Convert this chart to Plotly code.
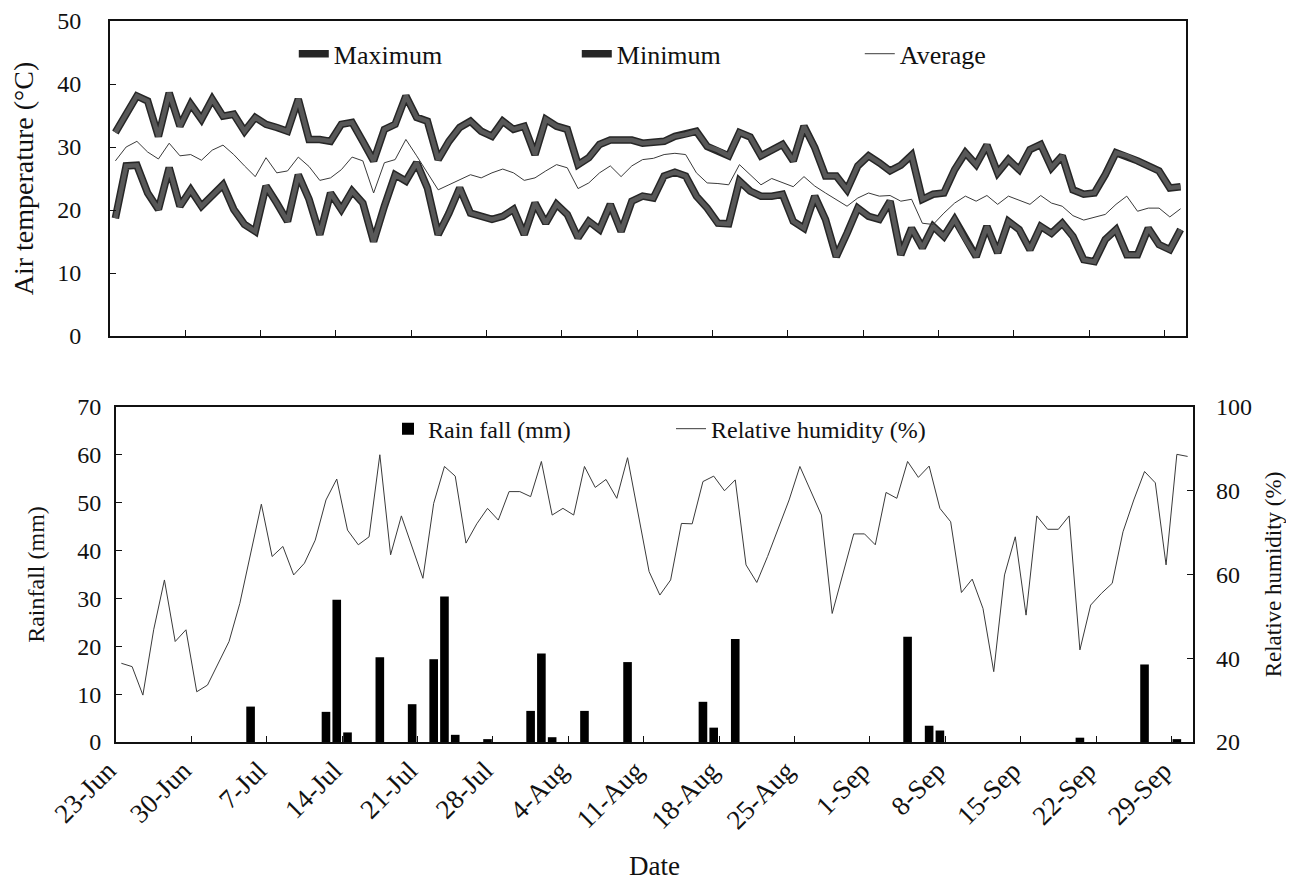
import plotly.graph_objects as go

# ---------------- data (23-Jun .. 30-Sep, one value per day) ----------------
tick_labels = ["23-Jun", "30-Jun", "7-Jul", "14-Jul", "21-Jul", "28-Jul", "4-Aug",
               "11-Aug", "18-Aug", "25-Aug", "1-Sep", "8-Sep", "15-Sep", "22-Sep", "29-Sep"]

t_max = [32.3, 35.2, 38.1, 37.3, 31.7, 38.6, 33.3, 36.8, 34.4, 37.6,
         34.9, 35.2, 32.5, 34.7, 33.6, 33.1, 32.5, 37.6, 31.2, 31.2,
         30.9, 33.6, 33.9, 30.9, 27.8, 32.8, 33.6, 38.1, 34.7, 34.1,
         28.0, 30.9, 33.1, 34.1, 32.5, 31.7, 34.1, 32.8, 33.3, 28.8,
         34.4, 33.3, 32.8, 27.2, 28.3, 30.4, 31.1, 31.1, 31.1, 30.6,
         30.7, 30.9, 31.7, 32.0, 32.5, 30.1, 29.5, 28.6, 32.3, 31.6,
         28.6, 29.5, 30.4, 27.8, 33.3, 29.9, 25.4, 25.4, 23.2, 27.0,
         28.6, 27.5, 26.2, 27.1, 28.7, 21.7, 22.5, 22.7, 26.4, 29.1,
         27.2, 30.3, 25.9, 28.0, 26.4, 29.6, 30.4, 26.7, 28.6, 23.2,
         22.5, 22.7, 25.6, 29.1, 28.6, 27.8, 27.0, 26.2, 23.5, 23.7]

t_min = [18.7, 27.0, 27.1, 22.7, 20.1, 26.7, 20.6, 23.2, 20.6, 22.2,
         24.0, 20.1, 17.7, 16.6, 23.8, 21.1, 18.2, 25.6, 21.7, 16.1,
         22.7, 20.1, 23.0, 21.1, 15.0, 20.6, 25.6, 24.6, 27.5, 23.5,
         16.1, 19.5, 23.5, 19.5, 19.0, 18.5, 19.0, 20.1, 16.1, 21.1,
         17.9, 20.9, 19.3, 15.6, 18.2, 16.9, 20.9, 16.6, 21.4, 22.2,
         21.9, 25.4, 26.0, 25.4, 22.2, 20.3, 17.9, 17.8, 24.6, 23.0,
         22.2, 22.2, 22.5, 18.2, 17.1, 22.2, 18.5, 12.6, 16.3, 20.3,
         19.0, 18.5, 21.4, 12.9, 17.1, 14.0, 17.4, 15.8, 18.5, 15.3,
         12.6, 17.4, 13.2, 18.2, 16.9, 13.7, 17.4, 16.3, 17.9, 15.8,
         12.1, 11.8, 15.3, 16.9, 12.9, 12.9, 17.1, 14.5, 13.7, 16.9]

t_avg = [27.8, 30.0, 30.9, 29.2, 28.1, 30.6, 28.6, 28.8, 27.9, 29.5,
         30.3, 28.8, 27.0, 25.3, 28.3, 25.9, 26.2, 28.4, 26.9, 24.7,
         25.1, 26.4, 28.4, 27.8, 22.7, 27.5, 28.0, 31.2, 28.6, 25.9,
         23.2, 24.0, 24.8, 25.6, 25.1, 25.9, 26.5, 25.9, 24.7, 25.1,
         26.2, 27.2, 26.7, 23.4, 24.3, 25.9, 27.0, 25.3, 27.0, 28.0,
         28.2, 28.8, 29.0, 28.8, 25.9, 24.3, 24.2, 24.0, 27.2, 25.6,
         24.0, 25.0, 24.3, 23.7, 25.3, 23.8, 22.7, 21.7, 20.6, 21.9,
         22.7, 22.2, 22.3, 21.4, 21.7, 17.9, 17.7, 19.5, 21.1, 22.2,
         21.4, 22.3, 20.9, 22.2, 21.5, 20.9, 22.3, 21.1, 20.6, 19.1,
         18.4, 18.8, 19.3, 20.9, 22.2, 19.8, 20.3, 20.3, 18.9, 20.2]

rel_humidity = [38.8, 38.0, 31.2, 46.8, 58.7, 44.0, 46.8, 32.0, 33.6, 38.8,
                44.0, 53.1, 64.7, 76.8, 64.3, 66.7, 59.9, 62.7, 68.2, 77.8,
                82.8, 70.6, 67.1, 69.0, 88.6, 64.7, 74.0, 66.7, 59.1, 77.0,
                85.8, 83.5, 67.5, 72.1, 75.8, 73.0, 79.8, 79.8, 78.6, 87.0,
                74.2, 75.8, 74.2, 85.8, 80.8, 82.7, 78.2, 87.9, 74.6, 60.7,
                55.1, 58.7, 72.2, 72.1, 82.2, 83.5, 80.0, 82.6, 62.3, 58.1,
                64.3, 71.0, 77.8, 85.8, 79.8, 74.2, 50.7, 60.3, 69.7, 69.7,
                67.1, 79.6, 78.2, 87.0, 83.2, 85.9, 75.8, 72.6, 55.7, 58.9,
                51.9, 36.8, 59.9, 69.0, 50.3, 74.0, 70.8, 70.8, 74.0, 42.0,
                52.7, 55.5, 57.9, 70.2, 77.8, 84.6, 81.9, 62.3, 88.7, 88.2]

# rainy days (day index from 23-Jun) and amounts
rain_days = [12, 19, 20, 21, 24, 27, 29, 30, 31, 34, 38, 39, 40, 43, 47,
             54, 55, 57, 73, 75, 76, 89, 95, 98]
rain_mm = [7.4, 6.3, 29.7, 2.0, 17.7, 7.9, 17.3, 30.4, 1.5, 0.6, 6.5, 18.5, 1.0, 6.5, 16.7,
           8.4, 3.0, 21.5, 22.0, 3.4, 2.4, 0.9, 16.2, 0.6]

n_days = len(t_max)
days = list(range(n_days))
tick_pos = [7 * k - 0.5 for k in range(len(tick_labels))]

FONT = "Liberation Serif"
INK = "#111111"

fig = go.Figure()

# ---------------- top panel: air temperature ----------------
for name, series in (("Maximum", t_max), ("Minimum", t_min)):
    fig.add_trace(go.Scatter(x=days, y=series, mode="lines", name=name,
                             line=dict(color="#262626", width=7.5),
                             legendgroup=name, legend="legend",
                             xaxis="x", yaxis="y"))
    fig.add_trace(go.Scatter(x=days, y=series, mode="lines", name=name,
                             line=dict(color="#585858", width=4.5),
                             legendgroup=name, showlegend=False,
                             xaxis="x", yaxis="y", hoverinfo="skip"))
fig.add_trace(go.Scatter(x=days, y=t_avg, mode="lines", name="Average",
                         line=dict(color="#3a3a3a", width=1),
                         legend="legend", xaxis="x", yaxis="y"))

# ---------------- bottom panel: rainfall + humidity ----------------
fig.add_trace(go.Bar(x=rain_days, y=rain_mm, name="Rain fall (mm)",
                     marker=dict(color="black", line=dict(width=0)),
                     width=0.8, legend="legend2", xaxis="x2", yaxis="y2"))
fig.add_trace(go.Scatter(x=days, y=rel_humidity, mode="lines",
                         name="Relative humidity (%)",
                         line=dict(color="#3a3a3a", width=1),
                         legend="legend2", xaxis="x2", yaxis="y3"))

axis_common = dict(showline=True, linecolor=INK, linewidth=2, mirror=True,
                   ticks="inside", ticklen=6, tickcolor=INK, tickwidth=1.2,
                   showgrid=False, zeroline=False, automargin=False,
                   tickfont=dict(family=FONT, size=24, color=INK))

# the page body adds an 8 px offset, so the figure is 8 px smaller than the window
fig.update_layout(
    width=1286, height=882,
    margin=dict(l=102, r=101, t=13, b=148),
    paper_bgcolor="white", plot_bgcolor="white",
    font=dict(family=FONT, color=INK),
    bargap=0.2,
    xaxis=dict(domain=[0, 0.9935], anchor="y", range=[-0.5, n_days - 0.5],
               tickvals=tick_pos, ticktext=[""] * len(tick_pos), **axis_common),
    yaxis=dict(domain=[0.5631, 1], anchor="x", range=[0, 50], dtick=10,
               ticklabelstandoff=22,
               title=dict(text="Air temperature (°C)", standoff=18,
                          font=dict(family=FONT, size=28, color=INK)),
               **axis_common),
    xaxis2=dict(domain=[0.0055, 1], anchor="y2", range=[-0.5, n_days - 0.5],
                tickvals=tick_pos, ticktext=tick_labels, tickangle=-45,
                ticklabelstandoff=0, ticklabelshift=-8,
                title=dict(text="Date", standoff=22,
                           font=dict(family=FONT, size=27, color=INK)),
                **(axis_common | dict(tickfont=dict(family=FONT, size=27, color=INK)))),
    yaxis2=dict(domain=[0, 0.4646], anchor="x2", range=[0, 70], dtick=10,
                ticklabelstandoff=8,
                title=dict(text="Rainfall (mm)", standoff=26,
                           font=dict(family=FONT, size=24, color=INK)),
                **axis_common),
    yaxis3=dict(overlaying="y2", anchor="x2", side="right", range=[20, 100], dtick=20,
                showline=False, ticks="inside", ticklen=6, tickcolor=INK,
                ticklabelstandoff=22, showgrid=False, zeroline=False, automargin=False,
                tickfont=dict(family=FONT, size=24, color=INK),
                title=dict(text="Relative humidity (%)", standoff=13,
                           font=dict(family=FONT, size=23, color=INK))),
    legend=dict(orientation="h", x=0.1697, y=0.9545, xanchor="left", yanchor="middle",
                entrywidth=238, entrywidthmode="pixels", itemwidth=30,
                bgcolor="rgba(0,0,0,0)", font=dict(family=FONT, size=26, color=INK)),
    legend2=dict(orientation="h", x=0.2567, y=0.434, xanchor="left", yanchor="middle",
                 entrywidth=238, entrywidthmode="pixels", itemwidth=30,
                 bgcolor="rgba(0,0,0,0)", font=dict(family=FONT, size=24, color=INK)),
    showlegend=True,
)

fig.write_html("out.html")
